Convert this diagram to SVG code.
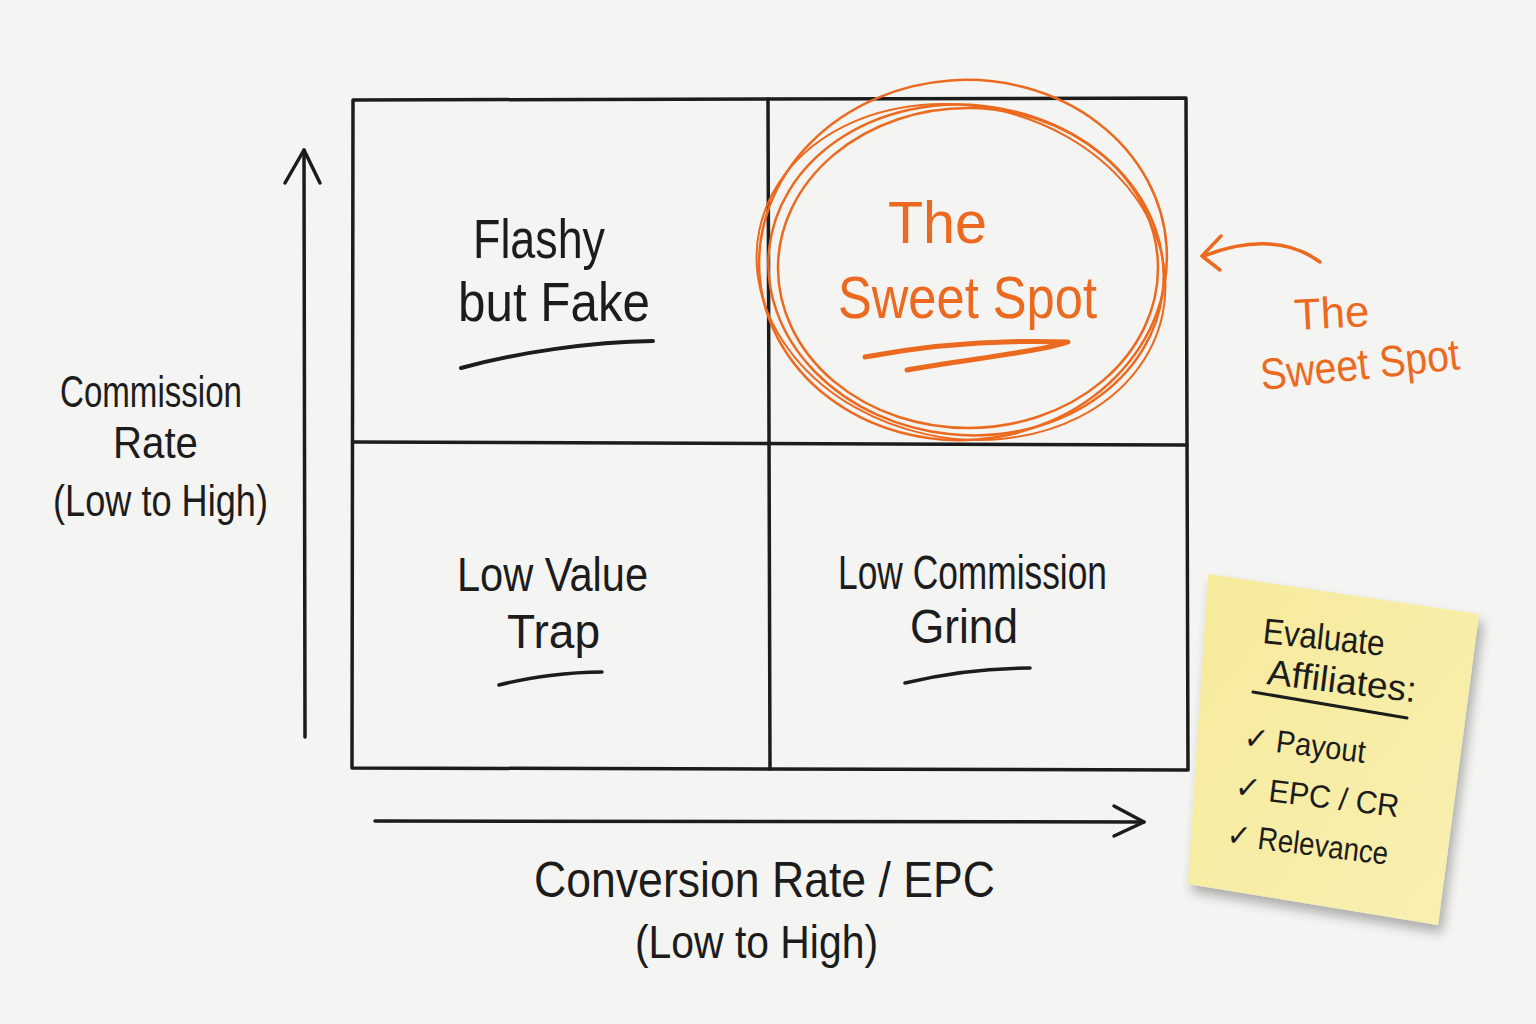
<svg xmlns="http://www.w3.org/2000/svg" width="1536" height="1024" viewBox="0 0 1536 1024">
<style>
.ink{fill:none;stroke:#1c1c1c;stroke-linecap:round;stroke-linejoin:round}
.or{fill:none;stroke:#ec6a1f;stroke-linecap:round;stroke-linejoin:round}
.t{font-family:"Liberation Sans","Open Sans",sans-serif;fill:#1c1c1c}
.to{font-family:"Liberation Sans","Open Sans",sans-serif;fill:#ec6a1f}
</style>
<defs>
<linearGradient id="note" x1="0" y1="0" x2="1" y2="1">
<stop offset="0" stop-color="#f6ea9a"/>
<stop offset="1" stop-color="#f8f0b2"/>
</linearGradient>
<filter id="sh" x="-20%" y="-20%" width="140%" height="140%">
<feGaussianBlur in="SourceAlpha" stdDeviation="6"/>
<feOffset dx="4" dy="8" result="b"/>
<feComponentTransfer><feFuncA type="linear" slope="0.3"/></feComponentTransfer>
<feMerge><feMergeNode/><feMergeNode in="SourceGraphic"/></feMerge>
</filter>
</defs>
<rect width="1536" height="1024" fill="#f4f4f2"/>

<g id="grid">
<path class="ink" stroke-width="3.5" d="M353 100 L1186 98 L1188 770 L352 768 Z"/>
<path class="ink" stroke-width="3.5" d="M768 99 L770 769"/>
<path class="ink" stroke-width="3.5" d="M353 442 L1187 445"/>
</g>

<g id="connectors">
<path class="ink" stroke-width="3.5" d="M305 737 L304 150"/>
<path class="ink" stroke-width="3.5" d="M285 183 L304 150 L320 183"/>
<path class="ink" stroke-width="3.5" d="M375 821 L1144 822"/>
<path class="ink" stroke-width="3.5" d="M1114 806 L1144 822 L1114 836"/>
<path class="or" stroke-width="3.5" d="M1320 262 C1290 240 1250 238 1204 256"/>
<path class="or" stroke-width="3.5" d="M1221 236 L1202 256 L1220 270"/>
</g>

<g id="y-axis-label">
<text class="t" x="60" y="407" font-size="44" textLength="182" lengthAdjust="spacingAndGlyphs">Commission</text>
<text class="t" x="113" y="458" font-size="44" textLength="85" lengthAdjust="spacingAndGlyphs">Rate</text>
<text class="t" x="53" y="516" font-size="44" textLength="215" lengthAdjust="spacingAndGlyphs">(Low to High)</text>
</g>

<g id="x-axis-label">
<text class="t" x="534" y="897" font-size="50" textLength="461" lengthAdjust="spacingAndGlyphs">Conversion Rate / EPC</text>
<text class="t" x="635" y="958" font-size="46" textLength="243" lengthAdjust="spacingAndGlyphs">(Low to High)</text>
</g>

<g id="q-flashy">
<text class="t" x="473" y="258" font-size="56" textLength="132" lengthAdjust="spacingAndGlyphs">Flashy</text>
<text class="t" x="458" y="321" font-size="56" textLength="192" lengthAdjust="spacingAndGlyphs">but Fake</text>
<path class="ink" stroke-width="4" d="M461 368 C520 352 590 342 653 341"/>
</g>

<g id="q-sweet">
<ellipse class="or" stroke-width="2.5" cx="963" cy="260" rx="204" ry="180" transform="rotate(-4 963 260)"/>
<ellipse class="or" stroke-width="2.5" cx="966" cy="270" rx="198" ry="165" transform="rotate(6 966 270)"/>
<ellipse class="or" stroke-width="2.5" cx="968" cy="268" rx="190" ry="160"/>
<ellipse class="or" stroke-width="2" cx="961" cy="272" rx="206" ry="166" transform="rotate(12 961 272)"/>
<text class="to" x="888" y="243" font-size="60" textLength="99" lengthAdjust="spacingAndGlyphs">The</text>
<text class="to" x="838" y="318" font-size="60" textLength="259" lengthAdjust="spacingAndGlyphs">Sweet Spot</text>
<path class="or" stroke-width="5" d="M865 357 C940 343 1010 340 1068 342 C1040 352 960 360 907 370"/>
</g>

<g id="sweet-note">
<text class="to" x="1295" y="330" font-size="44" textLength="75" lengthAdjust="spacingAndGlyphs" transform="rotate(-3 1295 330)">The</text>
<text class="to" x="1262" y="390" font-size="44" textLength="200" lengthAdjust="spacingAndGlyphs" transform="rotate(-6 1262 390)">Sweet Spot</text>
</g>

<g id="q-lowvalue">
<text class="t" x="457" y="591" font-size="48" textLength="191" lengthAdjust="spacingAndGlyphs">Low Value</text>
<text class="t" x="507" y="648" font-size="48" textLength="93" lengthAdjust="spacingAndGlyphs">Trap</text>
<path class="ink" stroke-width="3.5" d="M499 685 C530 677 570 672 602 672"/>
</g>

<g id="q-lowcomm">
<text class="t" x="838" y="589" font-size="48" textLength="269" lengthAdjust="spacingAndGlyphs">Low Commission</text>
<text class="t" x="910" y="643" font-size="48" textLength="108" lengthAdjust="spacingAndGlyphs">Grind</text>
<path class="ink" stroke-width="3.5" d="M905 683 C950 672 995 668 1030 668"/>
</g>

<g id="sticky-note">
<path filter="url(#sh)" fill="url(#note)" d="M1208 574 L1479 614 L1438 925 L1188 884 Z"/>
<text class="t" x="1262" y="643" font-size="36" textLength="122" lengthAdjust="spacingAndGlyphs" transform="rotate(6 1262 643)">Evaluate</text>
<text class="t" x="1266" y="684" font-size="36" textLength="150" lengthAdjust="spacingAndGlyphs" transform="rotate(7 1266 684)">Affiliates:</text>
<path class="ink" stroke-width="3" d="M1253 692 L1407 718"/>
<text class="t" x="1243" y="748" font-size="32" textLength="122" lengthAdjust="spacingAndGlyphs" transform="rotate(7 1243 748)">✓ Payout</text>
<text class="t" x="1234" y="797" font-size="32" textLength="165" lengthAdjust="spacingAndGlyphs" transform="rotate(7 1234 797)">✓ EPC / CR</text>
<text class="t" x="1226" y="845" font-size="32" textLength="162" lengthAdjust="spacingAndGlyphs" transform="rotate(7 1226 845)">✓ Relevance</text>
</g>
</svg>
